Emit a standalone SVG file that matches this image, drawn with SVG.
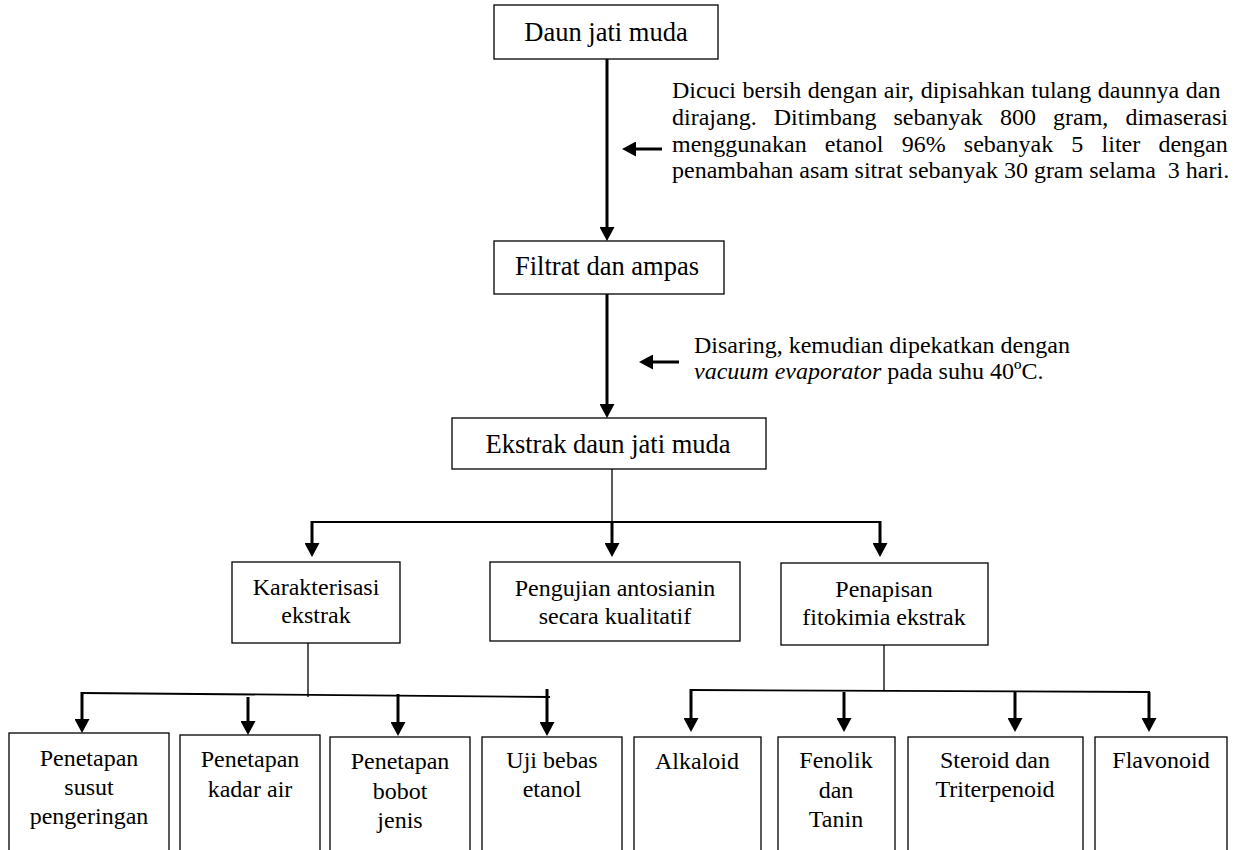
<svg xmlns="http://www.w3.org/2000/svg" width="1238" height="850" viewBox="0 0 1238 850">
<defs>
<marker id="ah" viewBox="0 0 14 15" refX="4" refY="7.5" markerWidth="14" markerHeight="15" markerUnits="userSpaceOnUse" orient="auto">
<path d="M0,0 L14,7.5 L0,15 Z" fill="#000"/>
</marker>
<style>
.box{fill:#fff;stroke:#000;stroke-width:1.3}
.t{font-family:"Liberation Serif","Times New Roman",serif;fill:#000;text-anchor:middle}
.big{font-size:26.5px}
.sm{font-size:24px}
.note{font-family:"Liberation Serif","Times New Roman",serif;fill:#000;font-size:24px}
.arr{stroke:#000;stroke-width:3;fill:none;marker-end:url(#ah)}
.thin{stroke:#000;stroke-width:1.3;fill:none}
.hl{stroke:#000;stroke-width:1.8;fill:none}
</style>
</defs>
<rect width="1238" height="850" fill="#fff"/>

<g id="connectors">
<line class="arr" x1="607" y1="59" x2="607" y2="231"/>
<line class="arr" x1="607" y1="294" x2="607" y2="408"/>
<line class="arr" x1="662" y1="149" x2="632" y2="149"/>
<line class="arr" x1="679" y1="362" x2="649" y2="362"/>
<line class="thin" x1="612" y1="469" x2="612" y2="522"/>
<line class="hl" x1="312" y1="522" x2="880" y2="522"/>
<line class="arr" x1="312" y1="521" x2="312" y2="547"/>
<line class="arr" x1="612" y1="522" x2="612" y2="547"/>
<line class="arr" x1="880" y1="521" x2="880" y2="547"/>
<line class="thin" x1="308" y1="643" x2="308" y2="697"/>
<line class="hl" x1="82" y1="693" x2="550" y2="697"/>
<line class="arr" x1="82" y1="692" x2="82" y2="723"/>
<line class="arr" x1="248" y1="697" x2="248" y2="725"/>
<line class="arr" x1="398" y1="694" x2="398" y2="726"/>
<line class="arr" x1="547" y1="689" x2="547" y2="726"/>
<line class="thin" x1="884" y1="645" x2="884" y2="690"/>
<line class="hl" x1="691" y1="690" x2="1150" y2="692"/>
<line class="arr" x1="691" y1="689" x2="691" y2="722"/>
<line class="arr" x1="844" y1="692" x2="844" y2="722"/>
<line class="arr" x1="1015" y1="692" x2="1015" y2="722"/>
<line class="arr" x1="1149" y1="692" x2="1149" y2="722"/>
</g>

<g id="note1">
<text class="note" x="672" y="98" word-spacing="0.6">Dicuci bersih dengan air, dipisahkan tulang daunnya dan</text>
<text class="note" x="672" y="125" word-spacing="11.1">dirajang. Ditimbang sebanyak 800 gram, dimaserasi</text>
<text class="note" x="672" y="151.5" word-spacing="12.2">menggunakan etanol 96% sebanyak 5 liter dengan</text>
<text class="note" x="672" y="178">penambahan asam sitrat sebanyak 30 gram selama&#160; 3 hari.</text>
</g>

<g id="note2">
<text class="note" x="694" y="353">Disaring, kemudian dipekatkan dengan</text>
<text class="note" x="694" y="379"><tspan font-style="italic">vacuum evaporator</tspan> pada suhu 40ºC.</text>
</g>

<g id="n-daun">
<rect class="box" x="494" y="5" width="224" height="54"/>
<text class="t big" x="606" y="41">Daun jati muda</text>
</g>

<g id="n-filtrat">
<rect class="box" x="494" y="241" width="230" height="53"/>
<text class="t big" x="607" y="275">Filtrat dan ampas</text>
</g>

<g id="n-ekstrak">
<rect class="box" x="452" y="418" width="314" height="51"/>
<text class="t big" x="608" y="453">Ekstrak daun jati muda</text>
</g>

<g id="n-karakterisasi">
<rect class="box" x="232" y="562" width="168" height="81"/>
<text class="t sm" x="316" y="595">Karakterisasi</text>
<text class="t sm" x="316" y="623">ekstrak</text>
</g>

<g id="n-pengujian">
<rect class="box" x="490" y="562" width="250" height="79"/>
<text class="t sm" x="615" y="596">Pengujian antosianin</text>
<text class="t sm" x="615" y="624">secara kualitatif</text>
</g>

<g id="n-penapisan">
<rect class="box" x="781" y="563" width="207" height="82"/>
<text class="t sm" x="884" y="597">Penapisan</text>
<text class="t sm" x="884" y="625">fitokimia ekstrak</text>
</g>

<g id="n-susut">
<rect class="box" x="9" y="733" width="160" height="130"/>
<text class="t sm" x="89" y="766">Penetapan</text>
<text class="t sm" x="89" y="795">susut</text>
<text class="t sm" x="89" y="824">pengeringan</text>
</g>

<g id="n-kadar">
<rect class="box" x="180" y="735" width="140" height="130"/>
<text class="t sm" x="250" y="767">Penetapan</text>
<text class="t sm" x="250" y="797">kadar air</text>
</g>

<g id="n-bobot">
<rect class="box" x="330" y="737" width="140" height="130"/>
<text class="t sm" x="400" y="769">Penetapan</text>
<text class="t sm" x="400" y="799">bobot</text>
<text class="t sm" x="400" y="828">jenis</text>
</g>

<g id="n-etanol">
<rect class="box" x="482" y="737" width="140" height="130"/>
<text class="t sm" x="552" y="768">Uji bebas</text>
<text class="t sm" x="552" y="797">etanol</text>
</g>

<g id="n-alkaloid">
<rect class="box" x="634" y="737" width="127" height="130"/>
<text class="t sm" x="697" y="769">Alkaloid</text>
</g>

<g id="n-fenolik">
<rect class="box" x="778" y="737" width="117" height="130"/>
<text class="t sm" x="836" y="768">Fenolik</text>
<text class="t sm" x="836" y="798">dan</text>
<text class="t sm" x="836" y="827">Tanin</text>
</g>

<g id="n-steroid">
<rect class="box" x="908" y="737" width="175" height="130"/>
<text class="t sm" x="995" y="768">Steroid dan</text>
<text class="t sm" x="995" y="797">Triterpenoid</text>
</g>

<g id="n-flavonoid">
<rect class="box" x="1095" y="737" width="132" height="130"/>
<text class="t sm" x="1161" y="768">Flavonoid</text>
</g>
</svg>
